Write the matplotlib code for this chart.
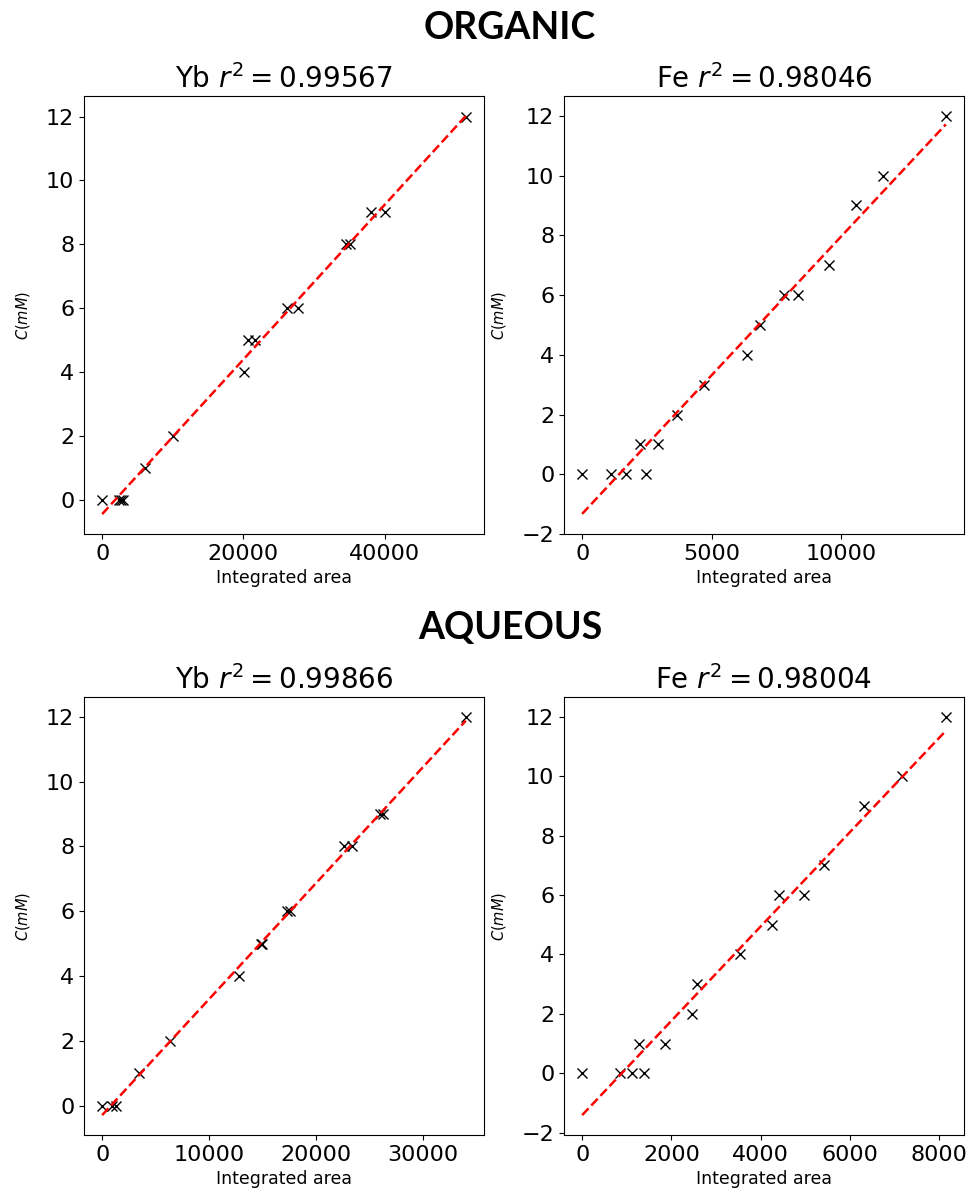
import numpy as np
import matplotlib
matplotlib.use("Agg")
import matplotlib.pyplot as plt

# concentraciones (mM) y áreas integradas
yb_org_area = [0, 2400, 2700, 3000, 6050, 10060, 20040, 20660, 21700, 26170, 27680,
               34510, 35120, 38090, 40020, 51520]
yb_org_conc = [0, 0, 0, 0, 1, 2, 4, 5, 5, 6, 6, 8, 8, 9, 9, 12]

fe_org_area = [0, 1093, 1699, 2444, 2212, 2919, 3668, 4683, 6371, 6873, 7784, 8324,
               9521, 10579, 11606, 14027]
fe_org_conc = [0, 0, 0, 0, 1, 1, 2, 3, 4, 5, 6, 6, 7, 9, 10, 12]

yb_aq_area = [0, 900, 1250, 3490, 6350, 12800, 14860, 14980, 17260, 17570, 22650,
              23390, 25980, 26290, 34020]
yb_aq_conc = [0, 0, 0, 1, 2, 4, 5, 5, 6, 6, 8, 8, 9, 9, 12]

fe_aq_area = [0, 852, 1121, 1375, 1270, 1862, 2467, 2580, 3544, 4253, 4403, 4970,
              5419, 6316, 7178, 8149]
fe_aq_conc = [0, 0, 0, 0, 1, 1, 2, 3, 4, 5, 6, 6, 7, 9, 10, 12]

titles = [r"Yb $r^2 = 0.99567$", r"Fe $r^2 = 0.98046$",
          r"Yb $r^2 = 0.99866$", r"Fe $r^2 = 0.98004$"]
section_titles = ["ORGANIC", "AQUEOUS"]

x_ticks = [[0, 20000, 40000], [0, 5000, 10000],
           [0, 10000, 20000, 30000], [0, 2000, 4000, 6000, 8000]]
y_ticks = [[0, 2, 4, 6, 8, 10, 12], [-2, 0, 2, 4, 6, 8, 10, 12],
           [0, 2, 4, 6, 8, 10, 12], [-2, 0, 2, 4, 6, 8, 10, 12]]

datasets = [(yb_org_area, yb_org_conc), (fe_org_area, fe_org_conc),
            (yb_aq_area, yb_aq_conc), (fe_aq_area, fe_aq_conc)]

fig = plt.figure(figsize=(9.72, 11.94), dpi=100)

W, H = 972, 1194
boxes = [(84, 96), (564, 96), (84, 697), (564, 697)]
aw, ah = 400, 438

for (x, y), title, (left, top), xt, yt in zip(datasets, titles, boxes, x_ticks, y_ticks):
    ax = fig.add_axes([left / W, 1 - (top + ah) / H, aw / W, ah / H])
    x = np.array(x, dtype=float)
    y = np.array(y, dtype=float)
    ax.plot(x, y, "kx", markersize=7)
    m, b = np.polyfit(x, y, 1)
    xs = np.array([x.min(), x.max()])
    ax.plot(xs, m * xs + b, "r--", linewidth=1.8)
    ax.set_title(title, fontsize=20)
    ax.set_xlabel("Integrated area", fontsize=12.5)
    ax.set_ylabel(r"$C(mM)$", fontsize=10.5, labelpad=10)
    ax.tick_params(labelsize=16)
    ax.set_xticks(xt)
    ax.set_yticks(yt)

fig.text(510 / W, 1 - 28 / H, section_titles[0], ha="center", va="center",
         fontsize=27, fontweight="bold", family="Lato")
fig.text(510 / W, 1 - 628 / H, section_titles[1], ha="center", va="center",
         fontsize=27, fontweight="bold", family="Lato")

plt.savefig("out.png", dpi=100)
